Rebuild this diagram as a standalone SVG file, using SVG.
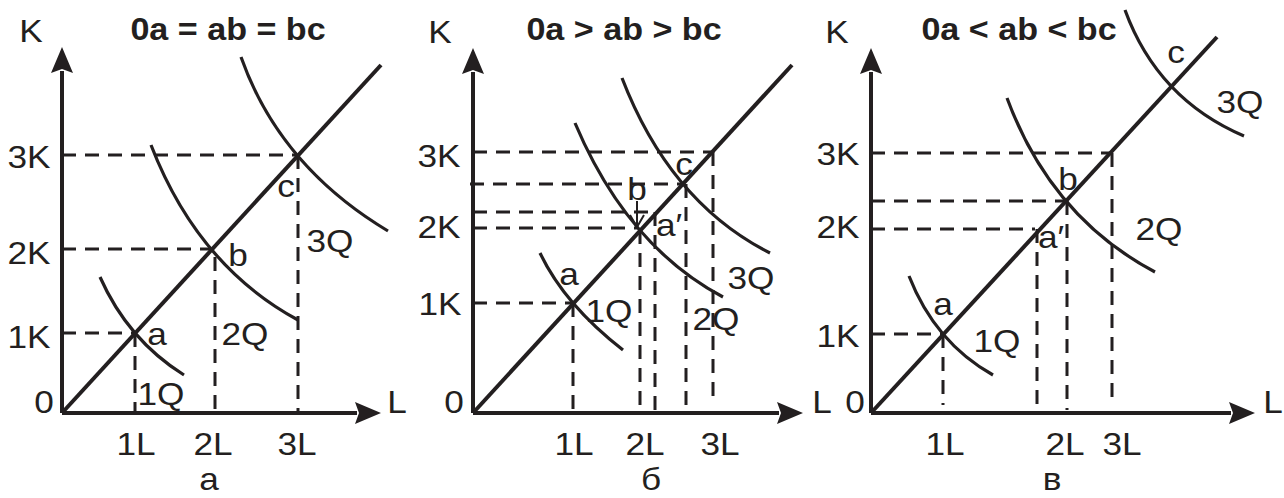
<svg xmlns="http://www.w3.org/2000/svg" width="1284" height="498" viewBox="0 0 1284 498">
<style>
  .ax { fill: none; stroke: #231f20; stroke-width: 4; }
  .ray { fill: none; stroke: #231f20; stroke-width: 4; }
  .iso { fill: none; stroke: #231f20; stroke-width: 3.2; }
  .dash { fill: none; stroke: #231f20; stroke-width: 3; stroke-dasharray: 14 9; }
  .lbl { font-family: "Liberation Sans", Arial, sans-serif; font-size: 32px; fill: #231f20; text-anchor: middle; }
  .ttl { font-family: "Liberation Sans", Arial, sans-serif; font-size: 31px; font-weight: bold; fill: #231f20; text-anchor: middle; }
</style>
<defs>
  <marker id="arr" markerUnits="userSpaceOnUse" markerWidth="26" markerHeight="22" refX="2" refY="11" orient="auto" overflow="visible">
    <path d="M0,0 L26,11 L0,22 L4,11 Z" fill="#231f20"/>
  </marker>
</defs>
<rect width="1284" height="498" fill="#ffffff"/>

<!-- Panel a -->
<g id="panel-a">
  <g id="a-dashes">
    <path class="dash" d="M62,155 H297 M62,249 H211 M62,333 H135"/>
    <path class="dash" d="M135,333 V413 M215,257 V413 M298,155 V413"/>
  </g>
  <g id="a-axes">
    <path class="ax" d="M62,413 V71" marker-end="url(#arr)"/>
    <path class="ax" d="M62,413 H357" marker-end="url(#arr)"/>
  </g>
  <path class="ray" d="M62,413 L381,65"/>
  <g id="a-isoquants">
    <path class="iso" d="M100,277 Q128,340 184,375"/>
    <path class="iso" d="M151,145 Q197.5,265.5 298,320"/>
    <path class="iso" d="M241,57 Q279.5,166 388,231"/>
  </g>
  <rect x="137" y="385" width="49" height="26" fill="#ffffff"/>
  <g id="a-labels">
    <text class="lbl" transform="translate(31,42) scale(1.1,1)">K</text>
    <text class="ttl" transform="translate(228,40) scale(1.1,1)">0a = ab = bc</text>
    <text class="lbl" transform="translate(29,168) scale(1.1,1)">3K</text>
    <text class="lbl" transform="translate(29,264) scale(1.1,1)">2K</text>
    <text class="lbl" transform="translate(29,348) scale(1.1,1)">1K</text>
    <text class="lbl" transform="translate(44,413) scale(1.1,1)">0</text>
    <text class="lbl" transform="translate(397,413) scale(1.1,1)">L</text>
    <text class="lbl" transform="translate(157,345) scale(1.1,1)">a</text>
    <text class="lbl" transform="translate(238,266) scale(1.1,1)">b</text>
    <text class="lbl" transform="translate(286,197) scale(1.1,1)">c</text>
    <text class="lbl" transform="translate(161,405) scale(1.1,1)">1Q</text>
    <text class="lbl" transform="translate(245,345) scale(1.1,1)">2Q</text>
    <text class="lbl" transform="translate(330,252) scale(1.1,1)">3Q</text>
    <text class="lbl" transform="translate(136,455) scale(1.1,1)">1L</text>
    <text class="lbl" transform="translate(213,455) scale(1.1,1)">2L</text>
    <text class="lbl" transform="translate(297,455) scale(1.1,1)">3L</text>
    <text class="lbl" transform="translate(209,490) scale(1.1,1)">а</text>
  </g>
</g>

<!-- Panel b -->
<g id="panel-b">
  <g id="b-dashes">
    <path class="dash" d="M473,152 H713 M470,184 H683 M473,212 H655 M473,228 H638 M473,303 H573"/>
    <path class="dash" d="M573,303 V413 M640,230 V405 M655,212 V413 M686,184 V413 M713,152 V405"/>
  </g>
  <g id="b-axes">
    <path class="ax" d="M473,413 V72" marker-end="url(#arr)"/>
    <path class="ax" d="M473,413 H779" marker-end="url(#arr)"/>
  </g>
  <path class="ray" d="M473,413 L792,65"/>
  <g id="b-isoquants">
    <path class="iso" d="M540,253 Q564.5,304.5 623,350"/>
    <path class="iso" d="M575,123 Q627,246 723,297"/>
    <path class="iso" d="M622,78 Q670,202.5 770,253"/>
  </g>
  <g id="b-shift-arrow">
    <path fill="none" stroke="#231f20" stroke-width="2" d="M637,201 V226 M630,215 L637,227 L644,215"/>
  </g>
  <g id="b-labels">
    <text class="lbl" transform="translate(440,43) scale(1.1,1)">K</text>
    <text class="ttl" transform="translate(624,40) scale(1.1,1)">0a &gt; ab &gt; bc</text>
    <text class="lbl" transform="translate(439,167) scale(1.1,1)">3K</text>
    <text class="lbl" transform="translate(439,238) scale(1.1,1)">2K</text>
    <text class="lbl" transform="translate(440,315) scale(1.1,1)">1K</text>
    <text class="lbl" transform="translate(454,413) scale(1.1,1)">0</text>
    <text class="lbl" transform="translate(822,413) scale(1.1,1)">L</text>
    <text class="lbl" transform="translate(684,175) scale(1.1,1)">c</text>
    <text class="lbl" transform="translate(637,200) scale(1.1,1)">b</text>
    <text class="lbl" transform="translate(669,236) scale(1.1,1)">a′</text>
    <text class="lbl" transform="translate(569,285) scale(1.1,1)">a</text>
    <text class="lbl" transform="translate(609,322) scale(1.1,1)">1Q</text>
    <text class="lbl" transform="translate(716,330) scale(1.1,1)">2Q</text>
    <text class="lbl" transform="translate(751,289) scale(1.1,1)">3Q</text>
    <text class="lbl" transform="translate(574,455) scale(1.1,1)">1L</text>
    <text class="lbl" transform="translate(645,455) scale(1.1,1)">2L</text>
    <text class="lbl" transform="translate(720,455) scale(1.1,1)">3L</text>
    <text class="lbl" transform="translate(651,490) scale(1.1,1)">б</text>
  </g>
</g>

<!-- Panel c -->
<g id="panel-c">
  <g id="c-dashes">
    <path class="dash" d="M871,153 H1112 M871,201 H1066 M871,229 H1035 M871,334 H943"/>
    <path class="dash" d="M943,334 V405 M1037,229 V405 M1067,201 V410 M1112,153 V405"/>
  </g>
  <g id="c-axes">
    <path class="ax" d="M871,413 V72" marker-end="url(#arr)"/>
    <path class="ax" d="M871,413 H1231" marker-end="url(#arr)"/>
  </g>
  <path class="ray" d="M871,413 L1217,37"/>
  <g id="c-isoquants">
    <path class="iso" d="M909,276 Q935,342.5 993,375"/>
    <path class="iso" d="M1007,98 Q1051,217 1155,272"/>
    <path class="iso" d="M1125,10 Q1157.5,99 1244,136"/>
  </g>
  <g id="c-labels">
    <text class="lbl" transform="translate(837,43) scale(1.1,1)">K</text>
    <text class="ttl" transform="translate(1019,40) scale(1.1,1)">0a &lt; ab &lt; bc</text>
    <text class="lbl" transform="translate(838,165) scale(1.1,1)">3K</text>
    <text class="lbl" transform="translate(838,238) scale(1.1,1)">2K</text>
    <text class="lbl" transform="translate(838,347) scale(1.1,1)">1K</text>
    <text class="lbl" transform="translate(855,413) scale(1.1,1)">0</text>
    <text class="lbl" transform="translate(1273,413) scale(1.1,1)">L</text>
    <text class="lbl" transform="translate(943,315) scale(1.1,1)">a</text>
    <text class="lbl" transform="translate(997,352) scale(1.1,1)">1Q</text>
    <text class="lbl" transform="translate(1051,248) scale(1.1,1)">a′</text>
    <text class="lbl" transform="translate(1068,190) scale(1.1,1)">b</text>
    <text class="lbl" transform="translate(1176,63) scale(1.1,1)">c</text>
    <text class="lbl" transform="translate(1240,113) scale(1.1,1)">3Q</text>
    <text class="lbl" transform="translate(1159,240) scale(1.1,1)">2Q</text>
    <text class="lbl" transform="translate(945,455) scale(1.1,1)">1L</text>
    <text class="lbl" transform="translate(1065,455) scale(1.1,1)">2L</text>
    <text class="lbl" transform="translate(1122,455) scale(1.1,1)">3L</text>
    <text class="lbl" transform="translate(1052,490) scale(1.1,1)">в</text>
  </g>
</g>
</svg>
